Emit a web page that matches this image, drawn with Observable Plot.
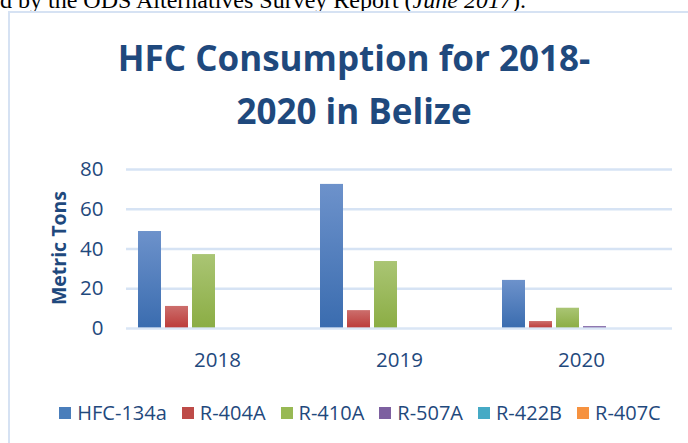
<!DOCTYPE html>
<html>
<head>
<meta charset="utf-8">
<script src="https://cdn.jsdelivr.net/npm/d3@7"></script>
<script src="https://cdn.jsdelivr.net/npm/@observablehq/plot@0.6"></script>
<style>
  html, body { margin: 0; padding: 0; background: #fff; }
  #page { position: relative; width: 688px; height: 443px; overflow: hidden; background: #fff; }
  #header { position: absolute; left: 0; top: -12px; font: 24px/24px "Liberation Serif", "Times New Roman", serif; color: #000; white-space: nowrap; }
  #frame { position: absolute; left: 8px; top: 11px; width: 900px; height: 600px; border-left: 2px solid #D6E2F3; border-top: 2px solid #D6E2F3; }
  #title { position: absolute; left: 0; width: 708px; top: 31px; text-align: center; font: bold 35px/53px "Open Sans", sans-serif; color: #1F497D; }
  #ylabel { position: absolute; left: 58px; top: 248px; transform: translate(-50%, -50%) rotate(-90deg); font: bold 19.5px "Open Sans", sans-serif; color: #1F497D; white-space: nowrap; }
  #chart { position: absolute; left: 0; top: 150px; }
  #legend { position: absolute; left: 0; width: 720px; top: 399px; display: flex; justify-content: center; gap: 15px; font: 20px "Open Sans", sans-serif; color: #1F497D; }
  #legend .item { display: flex; align-items: center; }
  #legend .sw { width: 12px; height: 12px; margin-right: 6px; }
</style>
</head>
<body>
<div id="page">
  <div id="header">d by the ODS Alternatives Survey Report (<i>June 2017</i>).</div>
  <div id="frame"></div>
  <div id="title">HFC Consumption for 2018-<br>2020 in Belize</div>
  <div id="ylabel">Metric Tons</div>
  <div id="chart"></div>
  <div id="legend"></div>
</div>
<script>
const years = ["2018", "2019", "2020"];
const series = ["HFC-134a", "R-404A", "R-410A", "R-507A", "R-422B", "R-407C"];
const hfc134a = [48.8, 72.5, 24.2];
const r404a = [11.1, 9.0, 3.5];
const r410a = [37.2, 33.7, 10.2];
const r507a = [0, 0, 1.0];
const r422b = [0, 0, 0];
const r407c = [0, 0, 0];
const yTicks = [0, 20, 40, 60, 80];

const seriesValues = [hfc134a, r404a, r410a, r507a, r422b, r407c];
const swatchColors = ["#4A7EBB", "#BE4B48", "#98B954", "#7D60A0", "#46AAC5", "#F69240"];
const gradStops = [
  ["#6D92CB", "#3A6CAF"],
  ["#CC6E6C", "#BC3B39"],
  ["#AAC574", "#8BAD44"],
  ["#9680B6", "#77599B"],
  ["#5DBAD1", "#389FBA"],
  ["#F9A465", "#F4882B"]
];

const data = [];
years.forEach((yr, i) => {
  series.forEach((s, j) => {
    data.push({year: yr, series: s, value: seriesValues[j][i]});
  });
});

const chart = Plot.plot({
  width: 688,
  height: 230,
  marginLeft: 126,
  marginRight: 16,
  marginTop: 19,
  marginBottom: 52,
  style: {fontFamily: "'Open Sans', sans-serif", fontSize: "20.5px", color: "#1F497D", background: "transparent"},
  fx: {domain: years, padding: 0, label: null, tickSize: 0, tickPadding: 24},
  x: {domain: series, paddingInner: 0.16, paddingOuter: 0.39, axis: null},
  y: {domain: [0, 80], ticks: yTicks, tickSize: 0, tickPadding: 23, label: null},
  color: {domain: series, range: series.map((s, i) => `url(#grad${i})`)},
  marks: [
    Plot.ruleY(yTicks.filter(d => d > 0), {stroke: "#D6E3F4", strokeWidth: 2.5}),
    Plot.barY(data, {fx: "year", x: "series", y: "value", fill: "series"}),
    Plot.ruleY([0], {stroke: "#D6E3F4", strokeWidth: 2.5, strokeOpacity: 0.9})
  ]
});

// gradient definitions
const ns = "http://www.w3.org/2000/svg";
const defs = document.createElementNS(ns, "defs");
gradStops.forEach((st, i) => {
  const g = document.createElementNS(ns, "linearGradient");
  g.setAttribute("id", `grad${i}`);
  g.setAttribute("x1", "0"); g.setAttribute("y1", "0");
  g.setAttribute("x2", "0"); g.setAttribute("y2", "1");
  [[0, st[0]], [1, st[1]]].forEach(([o, c]) => {
    const s = document.createElementNS(ns, "stop");
    s.setAttribute("offset", o);
    s.setAttribute("stop-color", c);
    g.appendChild(s);
  });
  defs.appendChild(g);
});
chart.insertBefore(defs, chart.firstChild);
document.getElementById("chart").appendChild(chart);

const legend = document.getElementById("legend");
series.forEach((s, i) => {
  const item = document.createElement("div");
  item.className = "item";
  const sw = document.createElement("div");
  sw.className = "sw";
  sw.style.background = swatchColors[i];
  const t = document.createElement("span");
  t.textContent = s;
  item.appendChild(sw);
  item.appendChild(t);
  legend.appendChild(item);
});
</script>
</body>
</html>
